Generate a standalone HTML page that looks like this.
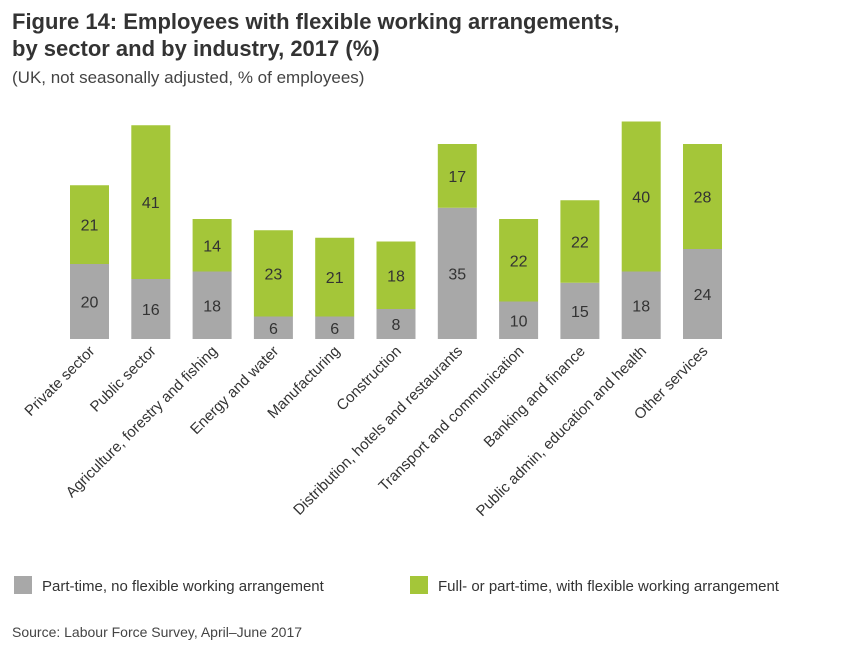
<!DOCTYPE html>
<html><head><meta charset="utf-8"><style>
body{margin:0;background:#fff;font-family:"Liberation Sans",sans-serif;}
</style></head><body>
<svg width="844" height="654" xmlns="http://www.w3.org/2000/svg">
<text x="12" y="29" font-size="22" font-weight="bold" fill="#333">Figure 14: Employees with flexible working arrangements,</text>
<text x="12" y="56" font-size="22" font-weight="bold" fill="#333">by sector and by industry, 2017 (%)</text>
<text x="12" y="83" font-size="17" fill="#444">(UK, not seasonally adjusted, % of employees)</text>
<g id="bars"></g>
<rect x="14" y="576" width="18" height="18" fill="#a8a8a8"/>
<text x="42" y="591" font-size="15" fill="#333">Part-time, no flexible working arrangement</text>
<rect x="410" y="576" width="18" height="18" fill="#a4c639"/>
<text x="438" y="591" font-size="15" fill="#333">Full- or part-time, with flexible working arrangement</text>
<text x="12" y="637" font-size="14" fill="#444">Source: Labour Force Survey, April–June 2017</text>
</svg>
<script>
const categories=["Private sector","Public sector","Agriculture, forestry and fishing","Energy and water","Manufacturing","Construction","Distribution, hotels and restaurants","Transport and communication","Banking and finance","Public admin, education and health","Other services"];
const partTime=[20,16,18,6,6,8,35,10,15,18,24];
const flexible=[21,41,14,23,21,18,17,22,22,40,28];
const NS="http://www.w3.org/2000/svg";
const g=document.getElementById('bars');
const baseY=339, scale=3.75, x0=70, step=61.3, bw=39;
const y=v=>baseY-v*scale;
function mk(tag,attrs){const e=document.createElementNS(NS,tag);for(const k in attrs)e.setAttribute(k,attrs[k]);g.appendChild(e);return e;}
categories.forEach((c,i)=>{
 const x=x0+i*step, cx=x+bw/2;
 const r1=mk('rect',{x:x,y:y(partTime[i]),width:bw,height:partTime[i]*scale,fill:'#a8a8a8'});
 
 
 const r2=mk('rect',{x:x,y:y(partTime[i]+flexible[i]),width:bw,height:flexible[i]*scale,fill:'#a4c639'});
 
 
 const t1=mk('text',{x:cx,y:y(partTime[i]/2)+6,'text-anchor':'middle','font-size':16,fill:'#333'});
 t1.textContent=partTime[i];
 
 
 const t2=mk('text',{x:cx,y:y(partTime[i]+flexible[i]/2)+6,'text-anchor':'middle','font-size':16,fill:'#333'});
 t2.textContent=flexible[i];
 
 
 const lx=cx+6, ly=352;
 const t3=mk('text',{x:lx,y:ly,'text-anchor':'end','font-size':15,fill:'#333',transform:`rotate(-45 ${lx} ${ly})`});
 t3.textContent=c;
 
 
});
</script>
</body></html>
